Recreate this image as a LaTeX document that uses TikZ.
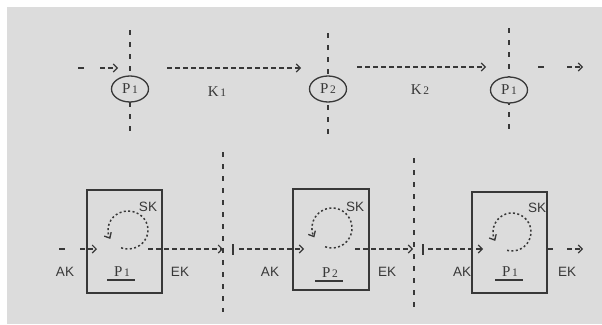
\documentclass[tikz,border=0pt]{standalone}
\usepackage{fontspec}
\usetikzlibrary{arrows.meta,shapes.geometric}
\newfontfamily\labelsans{Liberation Sans}
\newfontfamily\labelserif{Liberation Serif}
\definecolor{paper}{HTML}{DCDCDC}
\definecolor{inkc}{HTML}{383838}
% station name: capital letter with a smaller index figure
\newcommand{\stn}[2]{#1\hspace{1.5pt}{\fontsize{11.5}{11.5}\selectfont #2}}

\begin{document}
\begin{tikzpicture}[x=1pt,y=-1pt,
  line/.style={draw=inkc,line width=1.1pt},
  tipped/.style={line,dash pattern=on 4.5pt off 3.5pt,-{Straight Barb[length=4pt,width=8pt,line width=1.1pt]}},
  divider/.style={draw=inkc,line width=1.7pt,dash pattern=on 5pt off 7pt},
  tick/.style={draw=inkc,line width=1.7pt},
  station/.style={ellipse,draw=inkc,line width=1.3pt,fill=paper,minimum width=37pt,minimum height=26pt,
    inner sep=0pt,text=inkc,font=\labelserif\fontsize{15}{15}\selectfont},
  process/.style={rectangle,draw=inkc,line width=1.4pt},
  serifl/.style={inner sep=0pt,text=inkc,font=\labelserif\fontsize{15}{15}\selectfont},
  sansl/.style={inner sep=0pt,text=inkc,font=\labelsans\fontsize{13.5}{13.5}\selectfont},
  loopl/.style={draw=inkc,line width=1.5pt,dash pattern=on 2pt off 2.4pt,
    -{Straight Barb[length=4.5pt,width=8pt,line width=1.3pt]}},
  under/.style={draw=inkc,line width=1.2pt}]

% page and paper
\fill[white] (0,0) rectangle (602,324);
\fill[paper] (7,7) rectangle (602,324);
\useasboundingbox (0,0) rectangle (602,324);

% ---------- upper row: stations on the route ----------
\coordinate (v1t) at (130,30);  \coordinate (v1b) at (130,137);
\coordinate (v2t) at (328,33);  \coordinate (v2b) at (328,137);
\coordinate (v3t) at (509,28);  \coordinate (v3b) at (509,135);
\draw[divider] (v1t) -- (v1b);
\draw[divider] (v2t) -- (v2b);
\draw[divider] (v3t) -- (v3b);

\node[station] (s1) at (130,89) {\stn{P}{1}};
\node[station] (s2) at (328,89) {\stn{P}{2}};
\node[station] (s3) at (509,90) {\stn{P}{1}};

\coordinate (in0a) at (78,68);  \coordinate (in0b) at (84,68);
\coordinate (in1a) at (100,68); \coordinate (in1b) at (118,68);
\draw[line] (in0a) -- (in0b);
\draw[tipped] (in1a) -- (in1b);

\coordinate (k1a) at (167,68); \coordinate (k1b) at (301,68);
\draw[tipped] (k1a) -- (k1b);
\node[serifl] (k1) at (217,92) {\stn{K}{1}};

\coordinate (k2a) at (357,67); \coordinate (k2b) at (486,67);
\draw[tipped] (k2a) -- (k2b);
\node[serifl] (k2) at (420,90) {\stn{K}{2}};

\coordinate (out0a) at (538,67); \coordinate (out0b) at (544,67);
\coordinate (out1a) at (567,67); \coordinate (out1b) at (583,67);
\draw[line] (out0a) -- (out0b);
\draw[tipped] (out1a) -- (out1b);

% ---------- lower row: process boxes ----------
\coordinate (d1t) at (223,152); \coordinate (d1b) at (223,312);
\coordinate (d2t) at (414,158); \coordinate (d2b) at (414,312);
\draw[divider] (d1t) -- (d1b);
\draw[divider] (d2t) -- (d2b);

\node[process,minimum width=75pt,minimum height=103pt] (b1) at (124.5,241.5) {};
\node[process,minimum width=76pt,minimum height=101pt] (b2) at (331,239.5) {};
\node[process,minimum width=75pt,minimum height=101pt] (b3) at (509.5,242.5) {};

% internal cycles
\coordinate (c1) at (128,230);
\coordinate (c2) at (332,228);
\coordinate (c3) at (512,232);
\draw[loopl] (c1) ++(110:20 and 19) arc[start angle=110,end angle=-208,x radius=20,y radius=19];
\draw[loopl] (c2) ++(110:20 and 20) arc[start angle=110,end angle=-208,x radius=20,y radius=20];
\draw[loopl] (c3) ++(105:19 and 19) arc[start angle=105,end angle=-208,x radius=19,y radius=19];

\node[sansl] (sk1) at (148,207) {SK};
\node[sansl] (sk2) at (355,207) {SK};
\node[sansl] (sk3) at (537,208) {SK};

\node[serifl] (p1) at (122,272) {\stn{P}{1}};
\node[serifl] (p2) at (330,273) {\stn{P}{2}};
\node[serifl] (p3) at (510,272) {\stn{P}{1}};
\draw[under] ([xshift=-15pt,yshift=-8pt]p1.center) -- ([xshift=13pt,yshift=-8pt]p1.center);
\draw[under] ([xshift=-15pt,yshift=-8pt]p2.center) -- ([xshift=13pt,yshift=-8pt]p2.center);
\draw[under] ([xshift=-15pt,yshift=-8pt]p3.center) -- ([xshift=13pt,yshift=-8pt]p3.center);

% flow between the boxes
\coordinate (e0a) at (59,249);  \coordinate (e0b) at (65,249);
\coordinate (e1a) at (80,249);  \coordinate (e1b) at (97,249);
\draw[line] (e0a) -- (e0b);
\draw[tipped] (e1a) -- (e1b);

\coordinate (x1a) at (148,249); \coordinate (x1b) at (223,249);
\draw[tipped] (x1a) -- (x1b);
\coordinate (t1a) at (233,244); \coordinate (t1b) at (233,255);
\draw[tick] (t1a) -- (t1b);
\coordinate (y1a) at (239,249); \coordinate (y1b) at (304,249);
\draw[tipped] (y1a) -- (y1b);

\coordinate (x2a) at (355,249); \coordinate (x2b) at (413,249);
\draw[tipped] (x2a) -- (x2b);
\coordinate (t2a) at (423,244); \coordinate (t2b) at (423,255);
\draw[tick] (t2a) -- (t2b);
\coordinate (y2a) at (428,249); \coordinate (y2b) at (483,249);
\draw[tipped] (y2a) -- (y2b);

\coordinate (x3a) at (547,249); \coordinate (x3b) at (553,249);
\coordinate (z3a) at (567,249); \coordinate (z3b) at (583,249);
\draw[line] (x3a) -- (x3b);
\draw[tipped] (z3a) -- (z3b);

\node[sansl] (ak1) at (65,272)  {AK};
\node[sansl] (ek1) at (180,272) {EK};
\node[sansl] (ak2) at (270,272) {AK};
\node[sansl] (ek2) at (387,272) {EK};
\node[sansl] (ak3) at (462,272) {AK};
\node[sansl] (ek3) at (567,272) {EK};
\end{tikzpicture}
\end{document}
